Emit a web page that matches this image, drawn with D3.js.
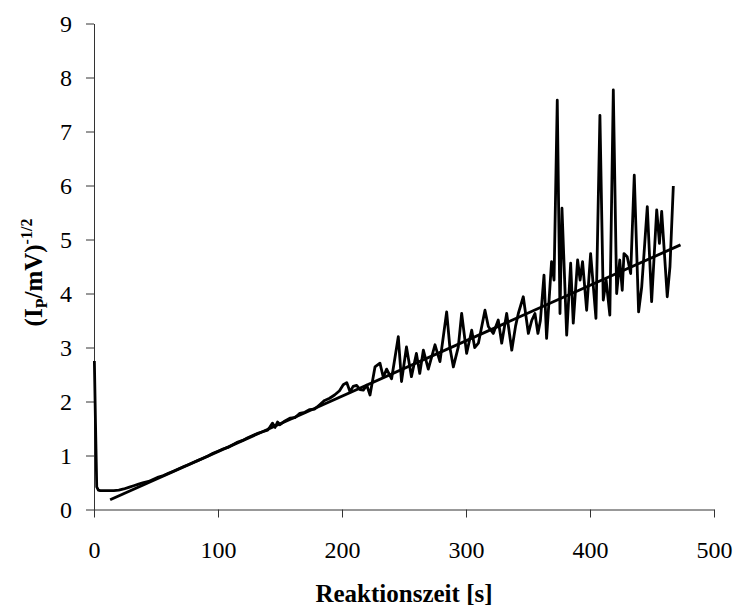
<!DOCTYPE html>
<html>
<head>
<meta charset="utf-8">
<script src="https://cdn.jsdelivr.net/npm/d3@7"></script>
<style>
  html, body { margin: 0; padding: 0; background: #fff; }
  svg { display: block; }
</style>
</head>
<body>
<svg id="chart" width="737" height="609"></svg>
<script>
// Measured signal: reaction time [s] and (Ip/mV)^-1/2
const timeS = [
  0.3, 1.2, 2.2, 3.5, 5, 8, 12, 16, 20, 24, 28, 32, 36, 40,
  44, 48, 52, 56, 60, 64, 68, 72, 76, 80, 84, 88, 92, 96, 100,
  104, 108, 112, 116, 120, 124, 128, 132, 136, 140, 142, 144, 146, 148, 150,
  154, 158, 162, 166, 170, 174, 178, 182, 186, 190, 194, 198,
  201, 203.8, 206.5, 209, 211.8, 214.5, 217.2, 220, 222.6, 226.6, 230.6, 233.3,
  236, 240, 245.4, 248, 252, 256, 260, 262.7, 265.6, 269.6, 275, 279,
  284.4, 287, 289.8, 293.8, 296.5, 300.5, 304.6, 307, 310, 315.3, 318,
  322, 326, 328.8, 332.8, 336.9, 340, 342.2, 346.2, 350.3, 353, 355.6, 358,
  360, 362.9, 365, 369, 371, 373.6, 375.8, 377.4, 381.2, 384.4, 386.5,
  390, 392, 394, 397.3, 400.5, 404.8, 408, 410.7, 413, 416, 418.8,
  421.5, 424, 426, 427.4, 430, 432.8, 435.7, 439.2, 441.7, 446.2, 449.7,
  453.8, 456, 457.8, 462.3, 464.5, 467.2
];
const signal = [
  2.75, 1.60, 0.42, 0.36, 0.35, 0.35, 0.35, 0.35, 0.36, 0.38, 0.41, 0.44, 0.47, 0.50,
  0.52, 0.56, 0.60, 0.63, 0.67, 0.71, 0.75, 0.79, 0.83, 0.87, 0.91, 0.95, 0.99, 1.04, 1.08,
  1.12, 1.15, 1.20, 1.25, 1.28, 1.33, 1.37, 1.41, 1.44, 1.47, 1.53, 1.60, 1.52, 1.62, 1.57,
  1.64, 1.69, 1.70, 1.78, 1.80, 1.85, 1.86, 1.94, 2.02, 2.06, 2.12, 2.20,
  2.31, 2.35, 2.18, 2.28, 2.30, 2.22, 2.21, 2.30, 2.12, 2.64, 2.71, 2.45,
  2.60, 2.42, 3.20, 2.37, 3.01, 2.46, 2.89, 2.52, 2.95, 2.60, 3.05, 2.74,
  3.66, 3.00, 2.64, 3.01, 3.63, 2.89, 3.32, 3.00, 3.08, 3.69, 3.39,
  3.26, 3.51, 3.08, 3.63, 2.95, 3.40, 3.63, 3.94, 3.26, 3.50, 3.63, 3.26,
  3.50, 4.34, 3.17, 4.59, 4.25, 7.58, 3.63, 5.58, 3.23, 4.56, 3.45,
  4.62, 4.25, 4.59, 3.69, 4.74, 3.54, 7.30, 3.88, 4.25, 3.60, 7.77,
  4.00, 4.62, 4.06, 4.74, 4.68, 4.37, 6.19, 3.66, 4.12, 5.61, 3.85,
  5.55, 4.93, 5.52, 3.94, 4.50, 5.99
];

// Linear regression line end points
const fitTime = [13, 473];
const fitValue = [0.18, 4.90];

const xTicks = [0, 100, 200, 300, 400, 500];
const yTicks = [0, 1, 2, 3, 4, 5, 6, 7, 8, 9];

const svg = d3.select("#chart");
const FONT = "'Liberation Serif', 'Times New Roman', serif";

const x = d3.scaleLinear().domain([0, 500]).range([94, 714]);
const y = d3.scaleLinear().domain([0, 9]).range([509.5, 23.5]);

// Axes
const xAxis = svg.append("g")
  .attr("transform", `translate(0,${y(0)})`)
  .call(d3.axisBottom(x).tickValues(xTicks).tickSize(8).tickSizeOuter(0).tickPadding(23));
const yAxis = svg.append("g")
  .attr("transform", `translate(${x(0)},0)`)
  .call(d3.axisLeft(y).tickValues(yTicks).tickSize(8).tickSizeOuter(0).tickPadding(14));

[xAxis, yAxis].forEach(g => {
  g.select(".domain").attr("stroke", "#333").attr("stroke-width", 1);
  g.selectAll(".tick line").attr("stroke", "#333").attr("stroke-width", 1);
  g.selectAll(".tick text")
    .attr("fill", "#000")
    .style("font-family", FONT)
    .style("font-size", "24px");
});

// Measured curve
const line = d3.line()
  .x((d, i) => x(timeS[i]))
  .y(d => y(d));

svg.append("path")
  .datum(signal)
  .attr("fill", "none")
  .attr("stroke", "#000")
  .attr("stroke-width", 2.8)
  .attr("stroke-linejoin", "round")
  .attr("d", line);

// Regression line
svg.append("path")
  .datum(fitValue)
  .attr("fill", "none")
  .attr("stroke", "#000")
  .attr("stroke-width", 2.8)
  .attr("d", d3.line().x((d, i) => x(fitTime[i])).y(d => y(d)));

// X axis title
svg.append("text")
  .attr("x", (x(0) + x(500)) / 2)
  .attr("y", 602)
  .attr("text-anchor", "middle")
  .style("font-family", FONT)
  .style("font-size", "25px")
  .style("font-weight", "bold")
  .text("Reaktionszeit [s]");

// Y axis title (I_P/mV)^-1/2
const yt = svg.append("text")
  .attr("transform", `translate(42,${(y(0) + y(9)) / 2 + 6}) rotate(-90)`)
  .attr("text-anchor", "middle")
  .style("font-family", FONT)
  .style("font-size", "25px")
  .style("font-weight", "bold");
yt.append("tspan").text("(I");
yt.append("tspan").attr("dy", 5).style("font-size", "16px").text("P");
yt.append("tspan").attr("dy", -5).text("/mV)");
yt.append("tspan").attr("dy", -10).style("font-size", "16px").text("-1/2");
</script>
</body>
</html>
